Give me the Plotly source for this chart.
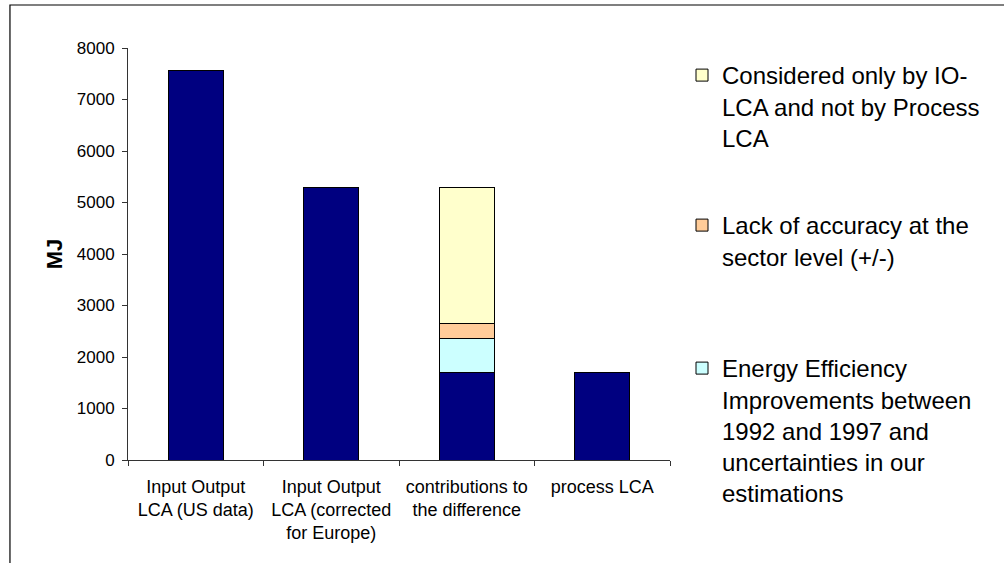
import plotly.graph_objects as go

# Energy use (MJ) per category, stacked from the bottom up
categories = [
    "Input Output<br>LCA (US data)",
    "Input Output<br>LCA (corrected<br>for Europe)",
    "contributions to<br>the difference",
    "process LCA",
]
base_mj = [7560, 5300, 1700, 1700]
efficiency_mj = [None, None, 650, None]
accuracy_mj = [None, None, 300, None]
io_only_mj = [None, None, 2650, None]

efficiency_name = "Energy Efficiency<br>Improvements between<br>1992 and 1997 and<br>uncertainties in our<br>estimations"
accuracy_name = "Lack of accuracy at the<br>sector level (+/-)"
io_only_name = "Considered only by IO-<br>LCA and not by Process<br>LCA"

y_ticks = [0, 1000, 2000, 3000, 4000, 5000, 6000, 7000, 8000]

W, H = 1004, 563
ML, MR, MT, MB = 128, 325, 48, 103
FONT = "Liberation Sans, Arial, sans-serif"
outline = dict(color="#000000", width=1)

fig = go.Figure()
fig.add_trace(go.Bar(x=categories, y=base_mj, marker=dict(color="#000080", line=outline),
                     showlegend=False))
fig.add_trace(go.Bar(x=categories, y=efficiency_mj, name=efficiency_name,
                     marker=dict(color="#CCFFFF", line=outline), legend="legend3"))
fig.add_trace(go.Bar(x=categories, y=accuracy_mj, name=accuracy_name,
                     marker=dict(color="#FFCC99", line=outline), legend="legend2"))
fig.add_trace(go.Bar(x=categories, y=io_only_mj, name=io_only_name,
                     marker=dict(color="#FFFFCC", line=outline), legend="legend"))


def legend_at(top_px):
    return dict(
        x=682 / W, y=1 - top_px / H, xref="container", yref="container",
        xanchor="left", yanchor="top", valign="top",
        font=dict(family=FONT, size=24, color="#000000"),
        bgcolor="rgba(0,0,0,0)", borderwidth=0,
    )


plot_w = W - ML - MR
plot_h = H - MT - MB

fig.update_layout(
    width=W, height=H,
    margin=dict(l=ML, r=MR, t=MT, b=MB),
    paper_bgcolor="#FFFFFF", plot_bgcolor="#FFFFFF",
    barmode="stack", bargap=0.593,
    font=dict(family=FONT, color="#000000"),
    legend=legend_at(53),
    legend2=legend_at(203),
    legend3=legend_at(346),
    xaxis=dict(
        showline=True, linecolor="#333333", linewidth=1,
        ticks="outside", ticklen=5, tickcolor="#333333", tickson="boundaries",
        ticklabelstandoff=10,
        tickfont=dict(family=FONT, size=18, color="#000000"),
        showgrid=False, zeroline=False,
    ),
    yaxis=dict(
        range=[0, 8000], tickvals=y_ticks,
        showline=True, linecolor="#333333", linewidth=1,
        ticks="outside", ticklen=5, tickcolor="#333333", ticklabelstandoff=4,
        tickfont=dict(family=FONT, size=17, color="#000000"),
        showgrid=False, zeroline=False,
        title=dict(text="<b>MJ</b>", font=dict(family=FONT, size=22, color="#000000"), standoff=8),
    ),
    shapes=[dict(
        type="rect", xref="paper", yref="paper",
        x0=(8 - ML) / plot_w, x1=(W + 20 - ML) / plot_w,
        y0=(H - MB - (H + 20)) / plot_h, y1=(H - MB - 5) / plot_h,
        line=dict(color="#000000", width=1.2), fillcolor="rgba(0,0,0,0)", layer="below",
    )],
)

fig.write_html("out.html")
